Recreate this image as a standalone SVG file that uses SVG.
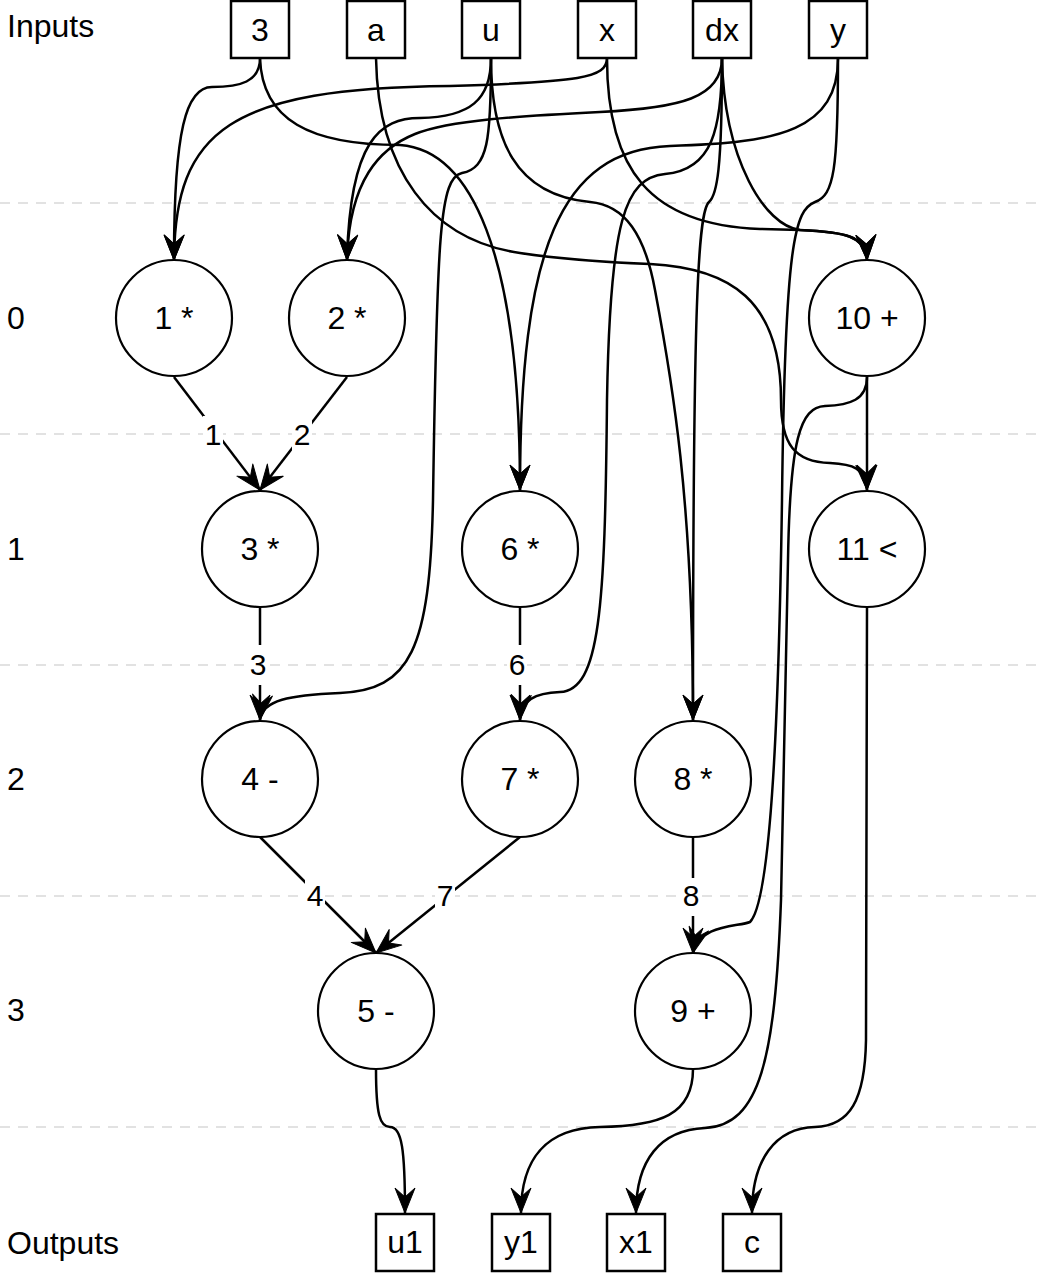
<svg xmlns="http://www.w3.org/2000/svg" width="1044" height="1278" viewBox="0 0 1044 1278">
<defs>
<marker id="arr" markerUnits="userSpaceOnUse" viewBox="-27 -12 28 24" refX="0" refY="0" markerWidth="28" markerHeight="24" orient="auto">
<path d="M0,0 L-25,-10 L-16,0 L-25,10 Z" fill="#000" stroke="#000" stroke-width="1" stroke-linejoin="round"/>
</marker>
<style>
text{font-family:"Liberation Sans",Arial,Helvetica,sans-serif;fill:#000}
.row{font-size:32px}
.nl{font-size:32px;text-anchor:middle}
.bl{font-size:32px;text-anchor:middle}
.el{font-size:30px;text-anchor:middle}
.sep{stroke:#e2e2e2;stroke-width:2;stroke-dasharray:10 8;fill:none}
.box{fill:#fff;stroke:#000;stroke-width:2.5}
.node{fill:#fff;stroke:#000;stroke-width:2.2}
.e{fill:none;stroke:#000;stroke-width:2.5;marker-end:url(#arr)}
.lb{fill:#fff}
</style>
</defs>
<rect width="1044" height="1278" fill="#fff"/>
<g id="separators">
<line class="sep" x1="0" y1="203" x2="1044" y2="203"/>
<line class="sep" x1="0" y1="434" x2="1044" y2="434"/>
<line class="sep" x1="0" y1="665" x2="1044" y2="665"/>
<line class="sep" x1="0" y1="896" x2="1044" y2="896"/>
<line class="sep" x1="0" y1="1127" x2="1044" y2="1127"/>
</g>
<g id="row-labels">
<text class="row" x="7" y="37">Inputs</text>
<text class="row" x="7" y="329">0</text>
<text class="row" x="7" y="560">1</text>
<text class="row" x="7" y="790">2</text>
<text class="row" x="7" y="1021">3</text>
<text class="row" x="7" y="1254">Outputs</text>
</g>
<g id="connectors">
<path class="e" d="M260,58 C260,82 240,87 212,87 C186,87 174,130 174,260"/>
<path class="e" d="M607,58 C607,78 580,82 450,86 C230,88 175,130 174,260"/>
<path class="e" d="M491,58 C491,100 470,117 420,118 C380,118 350,140 347,260"/>
<path class="e" d="M722,58 C722,98 680,108 600,112 C520,116 450,120 415,134 C380,148 349,180 347,260"/>
<path class="e" d="M174,377 L260,490"/>
<path class="e" d="M347,377 L260,490"/>
<path class="e" d="M260,58 C262,120 310,145 400,145 C470,150 520,250 520,490"/>
<path class="e" d="M838,58 C838,130 780,143 670,146 C560,150 520,250 520,490"/>
<path class="e" d="M260,607 L260,720"/>
<path class="e" d="M491,58 C491,140 488,168 462,173 C440,178 437,230 433,500 C430,650 410,690 340,693 C290,695 262,700 260,720"/>
<path class="e" d="M520,607 L520,720"/>
<path class="e" d="M722,58 C722,130 712,170 665,174 C625,178 610,220 607,400 C605,610 600,690 560,692 C535,693 521,700 520,720"/>
<path class="e" d="M491,58 C491,140 515,195 590,202 C625,205 645,235 655,290 C672,380 693,500 693,720"/>
<path class="e" d="M722,58 C722,170 717,195 709,202 C698,212 693,300 693,720"/>
<path class="e" d="M260,837 L376,953"/>
<path class="e" d="M520,837 L376,953"/>
<path class="e" d="M693,837 L693,953"/>
<path class="e" d="M838,58 C838,170 834,195 815,202 C795,210 785,240 782,500 C779,700 772,900 750,922 C738,927 700,924 693,953"/>
<path class="e" d="M607,58 C607,170 650,225 760,229 L800,230 C845,232 866,236 867,260"/>
<path class="e" d="M722,58 C724,160 765,226 800,230 C845,232 866,236 867,260"/>
<path class="e" d="M867,377 L867,490"/>
<path class="e" d="M376,58 C378,170 430,240 520,253 C560,259 600,262 650,264 C730,268 781,300 781,400 C781,445 795,462 830,463 C852,464 866,468 867,490"/>
<path class="e" d="M376,1069 C376,1115 380,1127 390,1127 C402,1127 405,1150 405,1213"/>
<path class="e" d="M693,1069 C693,1115 660,1126 600,1127 C545,1128 521,1160 521,1213"/>
<path class="e" d="M867,377 C867,400 850,405 825,406 C800,407 790,440 788,560 L781,900 C775,1060 760,1125 705,1128 C660,1130 636,1160 636,1213"/>
<path class="e" d="M867,607 L866,1040 C865,1100 850,1126 815,1127 C775,1128 752,1160 752,1213"/>
</g>
<g id="edge-labels">
<rect class="lb" x="203" y="416" width="20" height="38"/><text class="el" x="213" y="445">1</text>
<rect class="lb" x="292" y="416" width="20" height="38"/><text class="el" x="302" y="445">2</text>
<rect class="lb" x="248" y="645" width="20" height="40"/><text class="el" x="258" y="675">3</text>
<rect class="lb" x="507" y="645" width="20" height="40"/><text class="el" x="517" y="675">6</text>
<rect class="lb" x="305" y="878" width="20" height="38"/><text class="el" x="315" y="906">4</text>
<rect class="lb" x="435" y="878" width="20" height="38"/><text class="el" x="445" y="906">7</text>
<rect class="lb" x="681" y="878" width="20" height="38"/><text class="el" x="691" y="906">8</text>
</g>
<g id="in-3"><rect class="box" x="231" y="1" width="58" height="57"/><text class="bl" x="260" y="41">3</text></g>
<g id="in-a"><rect class="box" x="347" y="1" width="58" height="57"/><text class="bl" x="376" y="41">a</text></g>
<g id="in-u"><rect class="box" x="462" y="1" width="58" height="57"/><text class="bl" x="491" y="41">u</text></g>
<g id="in-x"><rect class="box" x="578" y="1" width="58" height="57"/><text class="bl" x="607" y="41">x</text></g>
<g id="in-dx"><rect class="box" x="693" y="1" width="58" height="57"/><text class="bl" x="722" y="41">dx</text></g>
<g id="in-y"><rect class="box" x="809" y="1" width="58" height="57"/><text class="bl" x="838" y="41">y</text></g>
<g id="n1"><circle class="node" cx="174" cy="318" r="58"/><text class="nl" x="174" y="329">1 *</text></g>
<g id="n2"><circle class="node" cx="347" cy="318" r="58"/><text class="nl" x="347" y="329">2 *</text></g>
<g id="n10"><circle class="node" cx="867" cy="318" r="58"/><text class="nl" x="867" y="329">10 +</text></g>
<g id="n3"><circle class="node" cx="260" cy="549" r="58"/><text class="nl" x="260" y="560">3 *</text></g>
<g id="n6"><circle class="node" cx="520" cy="549" r="58"/><text class="nl" x="520" y="560">6 *</text></g>
<g id="n11"><circle class="node" cx="867" cy="549" r="58"/><text class="nl" x="867" y="560">11 &lt;</text></g>
<g id="n4"><circle class="node" cx="260" cy="779" r="58"/><text class="nl" x="260" y="790">4 -</text></g>
<g id="n7"><circle class="node" cx="520" cy="779" r="58"/><text class="nl" x="520" y="790">7 *</text></g>
<g id="n8"><circle class="node" cx="693" cy="779" r="58"/><text class="nl" x="693" y="790">8 *</text></g>
<g id="n5"><circle class="node" cx="376" cy="1011" r="58"/><text class="nl" x="376" y="1022">5 -</text></g>
<g id="n9"><circle class="node" cx="693" cy="1011" r="58"/><text class="nl" x="693" y="1022">9 +</text></g>
<g id="out-u1"><rect class="box" x="376" y="1214" width="58" height="57"/><text class="bl" x="405" y="1253">u1</text></g>
<g id="out-y1"><rect class="box" x="492" y="1214" width="58" height="57"/><text class="bl" x="521" y="1253">y1</text></g>
<g id="out-x1"><rect class="box" x="607" y="1214" width="58" height="57"/><text class="bl" x="636" y="1253">x1</text></g>
<g id="out-c"><rect class="box" x="723" y="1214" width="58" height="57"/><text class="bl" x="752" y="1253">c</text></g>
</svg>
